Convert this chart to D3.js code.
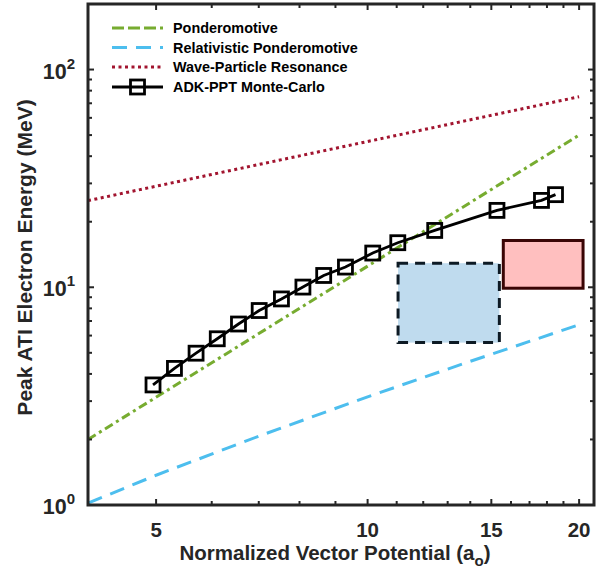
<!DOCTYPE html>
<html><head><meta charset="utf-8">
<script src="https://cdn.jsdelivr.net/npm/d3@7"></script>
<style>body{margin:0;background:#fff}svg{display:block;font-family:"Liberation Sans",Arial,Helvetica,sans-serif}</style>
</head><body>
<svg id="c" width="609" height="574"></svg>
<script>
// ---- data ----
const seriesNames = ["Ponderomotive","Relativistic Ponderomotive","Wave-Particle Resonance","ADK-PPT Monte-Carlo"];
const pondX = [4, 20];
const pondY = [2, 50];
const relX = [4, 5, 7, 10, 14, 20];
const relY = [1.02, 1.37, 2.07, 3.14, 4.57, 6.73];
const waveX = [4, 20];
const waveY = [25, 75];
const adkX = [4.95,5.31,5.70,6.11,6.55,7.01,7.54,8.09,8.66,9.30,10.17,11.04,12.46,15.28,17.68,18.51];
const adkY = [3.56,4.24,4.98,5.80,6.78,7.82,8.84,10.02,11.33,12.38,14.36,16.02,18.24,22.55,25.06,26.63];
const blueBoxX = [11.05, 15.4];
const blueBoxY = [5.57, 12.9];
const redBoxX = [15.6, 20.26];
const redBoxY = [9.9, 16.4];
const xTickVals = [5, 10, 15, 20];
const xTickLabels = ["5", "10", "15", "20"];
const yTickVals = [1, 10, 100];
const yTickExps = ["0", "1", "2"];
const xMinor = [4,6,7,8,9,11,12,13,14,16,17,18,19,21];
const yMinor = [2,3,4,5,6,7,8,9,20,30,40,50,60,70,80,90,200];

// ---- layout ----
const L = 88, R = 594, T = 4, B = 505;
const svg = d3.select("#c");
const x = d3.scaleLog().domain([4, 21]).range([L, R]);
const y = d3.scaleLog().domain([1, 200]).range([B, T]);
const axisCol = "#262626";

svg.append("defs").append("clipPath").attr("id","clip")
  .append("rect").attr("x",L).attr("y",T).attr("width",R-L).attr("height",B-T);
const g = svg.append("g").attr("clip-path","url(#clip)");

// boxes
g.append("rect")
  .attr("x", x(blueBoxX[0])).attr("y", y(blueBoxY[1]))
  .attr("width", x(blueBoxX[1]) - x(blueBoxX[0]))
  .attr("height", y(blueBoxY[0]) - y(blueBoxY[1]))
  .attr("fill", "#bfdbee").attr("stroke", "#0d1a24").attr("stroke-width", 3)
  .attr("stroke-dasharray", "10,7");
g.append("rect")
  .attr("x", x(redBoxX[0])).attr("y", y(redBoxY[1]))
  .attr("width", x(redBoxX[1]) - x(redBoxX[0]))
  .attr("height", y(redBoxY[0]) - y(redBoxY[1]))
  .attr("fill", "#ffbfbf").attr("stroke", "#3a0505").attr("stroke-width", 3);

const line = d3.line().x(d => x(d[0])).y(d => y(d[1]));
const zip = (a, b) => a.map((v, i) => [v, b[i]]);

const styles = [
  {col:"#77ac30", dash:"9,4,3,4", w:3},
  {col:"#4dbeee", dash:"15,9", w:3},
  {col:"#a2142f", dash:"3,3.5", w:3},
  {col:"#000", dash:null, w:2.8}
];

g.append("path").attr("d", line(zip(pondX, pondY))).attr("fill","none")
  .attr("stroke", styles[0].col).attr("stroke-width", styles[0].w).attr("stroke-dasharray", styles[0].dash);
g.append("path").attr("d", line(zip(relX, relY))).attr("fill","none")
  .attr("stroke", styles[1].col).attr("stroke-width", styles[1].w).attr("stroke-dasharray", styles[1].dash);
g.append("path").attr("d", line(zip(waveX, waveY))).attr("fill","none")
  .attr("stroke", styles[2].col).attr("stroke-width", styles[2].w).attr("stroke-dasharray", styles[2].dash);
g.append("path").attr("d", line(zip(adkX, adkY))).attr("fill","none")
  .attr("stroke", "#000").attr("stroke-width", 2.8);
const ms = 14;
g.selectAll("rect.m").data(zip(adkX, adkY)).enter().append("rect").attr("class","m")
  .attr("x", d => x(d[0]) - ms/2).attr("y", d => y(d[1]) - ms/2)
  .attr("width", ms).attr("height", ms)
  .attr("fill", "none").attr("stroke", "#000").attr("stroke-width", 2.8);

// ticks (inside, all four sides)
const tk = svg.append("g").attr("stroke", axisCol).attr("stroke-width", 2);
const majL = 6, minL = 4;
xTickVals.forEach(v => {
  tk.append("line").attr("x1", x(v)).attr("x2", x(v)).attr("y1", B).attr("y2", B - majL);
  tk.append("line").attr("x1", x(v)).attr("x2", x(v)).attr("y1", T).attr("y2", T + majL);
});
xMinor.forEach(v => {
  if (v <= 4 || v >= 21) return;
  tk.append("line").attr("x1", x(v)).attr("x2", x(v)).attr("y1", B).attr("y2", B - minL);
  tk.append("line").attr("x1", x(v)).attr("x2", x(v)).attr("y1", T).attr("y2", T + minL);
});
yTickVals.forEach(v => {
  tk.append("line").attr("x1", L).attr("x2", L + majL).attr("y1", y(v)).attr("y2", y(v));
  tk.append("line").attr("x1", R).attr("x2", R - majL).attr("y1", y(v)).attr("y2", y(v));
});
yMinor.forEach(v => {
  if (v >= 200) return;
  tk.append("line").attr("x1", L).attr("x2", L + minL).attr("y1", y(v)).attr("y2", y(v));
  tk.append("line").attr("x1", R).attr("x2", R - minL).attr("y1", y(v)).attr("y2", y(v));
});

// frame
svg.append("rect").attr("x", L).attr("y", T).attr("width", R - L).attr("height", B - T)
  .attr("fill", "none").attr("stroke", axisCol).attr("stroke-width", 3);

// tick labels
svg.selectAll("text.xt").data(xTickVals).enter().append("text")
  .attr("x", d => x(d)).attr("y", 537).attr("text-anchor", "middle")
  .attr("font-weight", "bold").attr("font-size", 20.5).attr("fill", "#262626")
  .text((d, i) => xTickLabels[i]);
yTickVals.forEach((v, i) => {
  const t = svg.append("text").attr("x", 75).attr("y", y(v) + 9).attr("text-anchor", "end")
    .attr("font-weight", "bold").attr("font-size", 21.5).attr("fill", "#262626");
  t.append("tspan").text("10");
  t.append("tspan").attr("font-size", 15).attr("dy", -10).text(yTickExps[i]);
});

// axis labels
const xl = svg.append("text").attr("x", (L + R) / 2 - 6).attr("y", 560).attr("text-anchor", "middle")
  .attr("font-weight", "bold").attr("font-size", 20.5).attr("fill", "#262626");
xl.append("tspan").text("Normalized Vector Potential (a");
xl.append("tspan").attr("font-size", 15).attr("dy", 6).text("o");
xl.append("tspan").attr("dy", -6).text(")");
svg.append("text").attr("transform", `translate(32,${(T + B) / 2 + 3}) rotate(-90)`)
  .attr("text-anchor", "middle").attr("font-weight", "bold").attr("font-size", 21).attr("fill", "#262626")
  .text("Peak ATI Electron Energy (MeV)");

// legend
const legY = [28, 47.5, 67, 87];
const lg = svg.append("g");
seriesNames.forEach((n, i) => {
  const s = styles[i];
  lg.append("line").attr("x1", 112).attr("x2", 163).attr("y1", legY[i]).attr("y2", legY[i])
    .attr("stroke", s.col).attr("stroke-width", s.w)
    .attr("stroke-dasharray", i === 0 ? "12,4" : (s.dash || null));
  if (i === 3) {
    lg.append("rect").attr("x", 137.5 - ms/2).attr("y", legY[i] - ms/2).attr("width", ms).attr("height", ms)
      .attr("fill", "none").attr("stroke", "#000").attr("stroke-width", 2.8);
  }
  lg.append("text").attr("x", 173).attr("y", legY[i] + 5).attr("font-weight", "bold")
    .attr("font-size", 14.4).attr("fill", "#000").text(n);
});
</script>
</body></html>
